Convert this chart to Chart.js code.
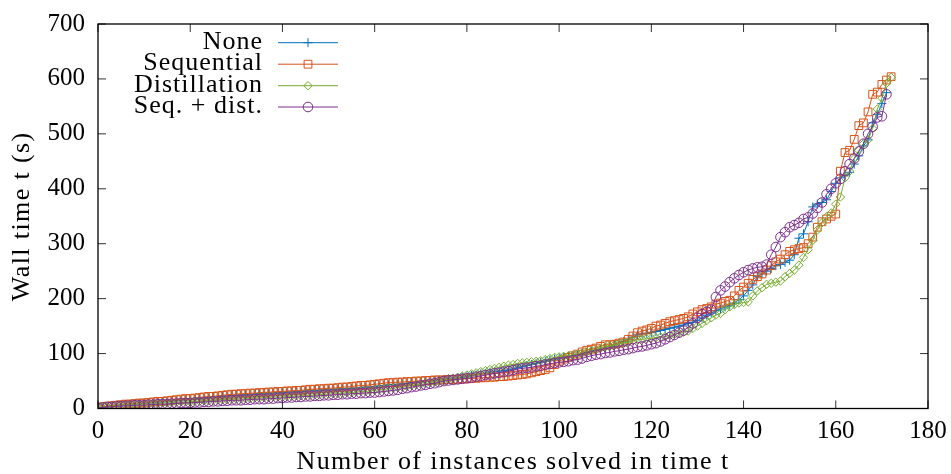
<!DOCTYPE html>
<html>
<head>
<meta charset="utf-8">
<script src="https://cdn.jsdelivr.net/npm/chart.js@4"></script>
<style>
  body { margin: 0; background: #fff; }
  canvas { display: block; }
</style>
</head>
<body>
<canvas id="cactus" width="951" height="474"></canvas>
<script>
// ---- data (wall time in seconds for the k-th solved instance) ----
const seriesNames = ['None', 'Sequential', 'Distillation', 'Seq. + dist.'];
const xTitle = 'Number of instances solved in time t';
const yTitle = 'Wall time t (s)';

const noneTimes = [
  1, 2, 3, 5, 6, 6, 7, 8, 9, 9,
  10, 10, 11, 12, 12, 13, 14, 14, 15, 16,
  16, 17, 18, 18, 19, 20, 21, 22, 23, 24,
  24, 25, 25, 26, 26, 27, 27, 28, 28, 29,
  29, 30, 30, 31, 31, 32, 32, 33, 33, 34,
  34, 35, 35, 36, 36, 37, 37, 38, 39, 39,
  40, 41, 42, 43, 44, 44, 45, 46, 47, 47,
  48, 49, 50, 51, 52, 53, 54, 55, 56, 57,
  58, 60, 61, 63, 64, 66, 67, 68, 69, 70,
  72, 74, 76, 78, 80, 82, 84, 86, 88, 90,
  92, 93, 95, 96, 98, 100, 102, 104, 106, 108,
  110, 113, 116, 119, 122, 126, 130, 134, 136, 137,
  138, 140, 142, 144, 146, 148, 150, 152, 155, 157,
  160, 165, 170, 174, 178, 181, 185, 188, 192, 198,
  205, 215, 225, 240, 245, 250, 255, 260, 262, 266,
  270, 280, 310, 318, 340, 367, 372, 375, 380, 395,
  410, 420, 425, 430, 445, 460, 478, 489, 520, 535,
  555, 575
];

const sequentialTimes = [
  1, 3, 4, 5, 6, 7, 8, 8, 9, 10,
  10, 11, 12, 13, 13, 14, 15, 16, 17, 18,
  18, 19, 20, 21, 22, 22, 23, 24, 25, 26,
  26, 27, 27, 28, 28, 29, 29, 30, 30, 31,
  31, 32, 32, 33, 33, 34, 35, 35, 36, 36,
  37, 37, 38, 39, 39, 40, 41, 42, 42, 43,
  44, 45, 46, 47, 47, 48, 48, 49, 49, 50,
  50, 51, 51, 52, 52, 52, 53, 53, 53, 54,
  54, 55, 55, 56, 56, 57, 57, 58, 58, 59,
  60, 61, 62, 63, 65, 67, 69, 71, 74, 80,
  86, 90, 93, 96, 99, 103, 106, 108, 110, 113,
  116, 116, 117, 119, 121, 126, 132, 138, 141, 143,
  146, 150, 152, 155, 158, 160, 162, 164, 167, 172,
  176, 180, 182, 185, 190, 192, 195, 197, 205, 215,
  221, 228, 235, 240, 245, 252, 260, 267, 272, 280,
  286, 289, 291, 293, 300, 312, 330, 340, 345, 350,
  354, 432, 466, 470, 490, 515, 520, 540, 572, 576,
  590, 598, 604
];

const distillationTimes = [
  1, 2, 3, 4, 4, 5, 6, 6, 7, 7,
  8, 8, 9, 9, 10, 10, 11, 11, 12, 12,
  12, 13, 13, 14, 14, 15, 15, 16, 16, 17,
  17, 17, 18, 18, 19, 19, 20, 20, 21, 21,
  21, 22, 22, 23, 23, 24, 24, 25, 25, 26,
  26, 27, 27, 28, 29, 29, 30, 31, 31, 32,
  33, 34, 35, 36, 37, 38, 39, 40, 42, 43,
  44, 45, 47, 48, 50, 51, 53, 55, 57, 59,
  61, 63, 65, 67, 69, 71, 73, 75, 77, 79,
  80, 82, 83, 84, 85, 86, 87, 89, 91, 93,
  94, 95, 96, 97, 99, 101, 103, 105, 107, 110,
  112, 114, 116, 118, 120, 121, 123, 125, 126, 127,
  128, 129, 130, 131, 133, 135, 137, 139, 141, 146,
  150, 155, 160, 165, 170, 173, 180, 185, 189, 192,
  193, 194, 205, 214, 220, 226, 228, 230, 232, 240,
  246, 252, 261, 275, 289, 306, 325, 338, 349, 356,
  372, 385, 420, 432, 455, 470, 482, 489, 510, 545,
  565, 592, 603
];

const seqDistTimes = [
  1, 2, 3, 3, 4, 4, 5, 5, 6, 6,
  6, 7, 7, 8, 8, 8, 9, 9, 10, 10,
  10, 11, 11, 12, 12, 13, 13, 14, 14, 15,
  15, 15, 16, 16, 17, 17, 17, 18, 18, 19,
  19, 20, 20, 21, 21, 22, 22, 23, 23, 24,
  24, 25, 25, 26, 26, 27, 27, 28, 28, 29,
  29, 30, 31, 32, 33, 34, 36, 37, 39, 40,
  42, 43, 45, 46, 48, 50, 51, 52, 53, 54,
  55, 56, 58, 59, 61, 62, 64, 65, 67, 68,
  70, 72, 73, 74, 75, 77, 78, 80, 81, 83,
  84, 85, 86, 88, 89, 91, 94, 96, 98, 99,
  101, 102, 104, 105, 107, 108, 110, 112, 113, 115,
  117, 119, 122, 126, 130, 134, 138, 142, 148, 155,
  165, 172, 176, 180, 203, 215, 222, 230, 237, 243,
  248, 252, 255, 257, 258, 262, 280, 294, 312, 321,
  330, 334, 338, 345, 348, 355, 365, 375, 390, 400,
  410, 418, 432, 445, 455, 468, 482, 500, 513, 530,
  532, 572
];

const xTickValues = [0, 20, 40, 60, 80, 100, 120, 140, 160, 180];
const yTickValues = [0, 100, 200, 300, 400, 500, 600, 700];

// ---- styling ----
const FONT = '"Liberation Serif", "Times New Roman", serif';
const colors = ['#0072bd', '#d95319', '#77ac30', '#7e2f8e'];
const markers = ['cross', 'rect', 'rectRot', 'circle'];
const markerSizes = [4.5, 5.5, 4.2, 4.8];

Chart.defaults.font.family = FONT;
Chart.defaults.color = '#000';

function toPoints(arr) {
  return arr.map((v, i) => ({ x: i, y: v }));
}

const allSeries = [noneTimes, sequentialTimes, distillationTimes, seqDistTimes];

const datasets = allSeries.map((arr, k) => ({
  label: seriesNames[k],
  data: toPoints(arr),
  borderColor: colors[k],
  borderWidth: 1,
  pointStyle: markers[k],
  pointRadius: markerSizes[k],
  pointBorderWidth: 1,
  pointBorderColor: colors[k],
  pointBackgroundColor: 'rgba(0,0,0,0)',
  fill: false,
  tension: 0,
  order: 4 - k
}));

// frame with inward ticks on all four sides + axis titles (gnuplot look)
const framePlugin = {
  id: 'frame',
  afterDraw(chart) {
    const { ctx, chartArea: a, scales } = chart;
    const tl = 8;
    ctx.save();
    ctx.strokeStyle = '#333';
    ctx.lineWidth = 1;
    ctx.beginPath();
    xTickValues.forEach(v => {
      const px = scales.x.getPixelForValue(v);
      ctx.moveTo(px, a.bottom); ctx.lineTo(px, a.bottom - tl);
      ctx.moveTo(px, a.top); ctx.lineTo(px, a.top + tl);
    });
    yTickValues.forEach(v => {
      const py = scales.y.getPixelForValue(v);
      ctx.moveTo(a.left, py); ctx.lineTo(a.left + tl, py);
      ctx.moveTo(a.right, py); ctx.lineTo(a.right - tl, py);
    });
    ctx.stroke();
    ctx.strokeStyle = '#000';
    ctx.lineWidth = 1.3;
    ctx.strokeRect(a.left, a.top, a.right - a.left, a.bottom - a.top);

    // axis titles, slightly letter-spaced to get closer to the TeX font width
    ctx.fillStyle = '#000';
    ctx.font = '26px ' + FONT;
    ctx.letterSpacing = '1.4px';
    ctx.textAlign = 'center';
    ctx.textBaseline = 'middle';
    ctx.fillText(xTitle, (a.left + a.right) / 2, 462);
    ctx.translate(22, (a.top + a.bottom) / 2);
    ctx.rotate(-Math.PI / 2);
    ctx.fillText(yTitle, 0, 0);
    ctx.restore();
  }
};

// legend in the top-left corner: label right aligned, sample line + marker
const legendPlugin = {
  id: 'keyBox',
  afterDraw(chart) {
    const { ctx } = chart;
    const textRight = 263, lineL = 278, lineR = 338, rowY = [42.7, 64.2, 85.7, 107];
    ctx.save();
    ctx.font = '26px ' + FONT;
    ctx.letterSpacing = '1px';
    ctx.textAlign = 'right';
    ctx.textBaseline = 'alphabetic';
    seriesNames.forEach((name, k) => {
      const y = rowY[k];
      ctx.fillStyle = '#000';
      ctx.fillText(name, textRight, y + 6);
      ctx.strokeStyle = colors[k];
      ctx.lineWidth = 1;
      ctx.beginPath();
      ctx.moveTo(lineL, y); ctx.lineTo(lineR, y);
      ctx.stroke();
      ctx.fillStyle = 'rgba(0,0,0,0)';
      Chart.helpers.drawPoint(ctx, {
        pointStyle: markers[k], radius: markerSizes[k], borderWidth: 1, rotation: 0
      }, (lineL + lineR) / 2, y);
    });
    ctx.letterSpacing = '0px';
    ctx.restore();
  }
};

new Chart(document.getElementById('cactus'), {
  type: 'line',
  data: { datasets },
  options: {
    responsive: false,
    animation: false,
    layout: { padding: { top: 24, right: 23, left: 0, bottom: 0 } },
    plugins: { legend: { display: false }, tooltip: { enabled: false } },
    scales: {
      x: {
        type: 'linear',
        min: 0, max: 180,
        afterBuildTicks: s => { s.ticks = xTickValues.map(v => ({ value: v })); },
        ticks: { font: { size: 25 }, padding: 8, maxRotation: 0 },
        grid: { display: false, drawTicks: false },
        border: { display: false },
        afterFit: s => { s.height = 65.5; s.paddingLeft = 0; s.paddingRight = 0; }
      },
      y: {
        type: 'linear',
        min: 0, max: 700,
        afterBuildTicks: s => { s.ticks = yTickValues.map(v => ({ value: v })); },
        ticks: { font: { size: 25 }, padding: 13 },
        grid: { display: false, drawTicks: false },
        border: { display: false },
        afterFit: s => { s.width = 98; s.paddingTop = 0; s.paddingBottom = 0; }
      }
    }
  },
  plugins: [framePlugin, legendPlugin]
});
</script>
</body>
</html>
